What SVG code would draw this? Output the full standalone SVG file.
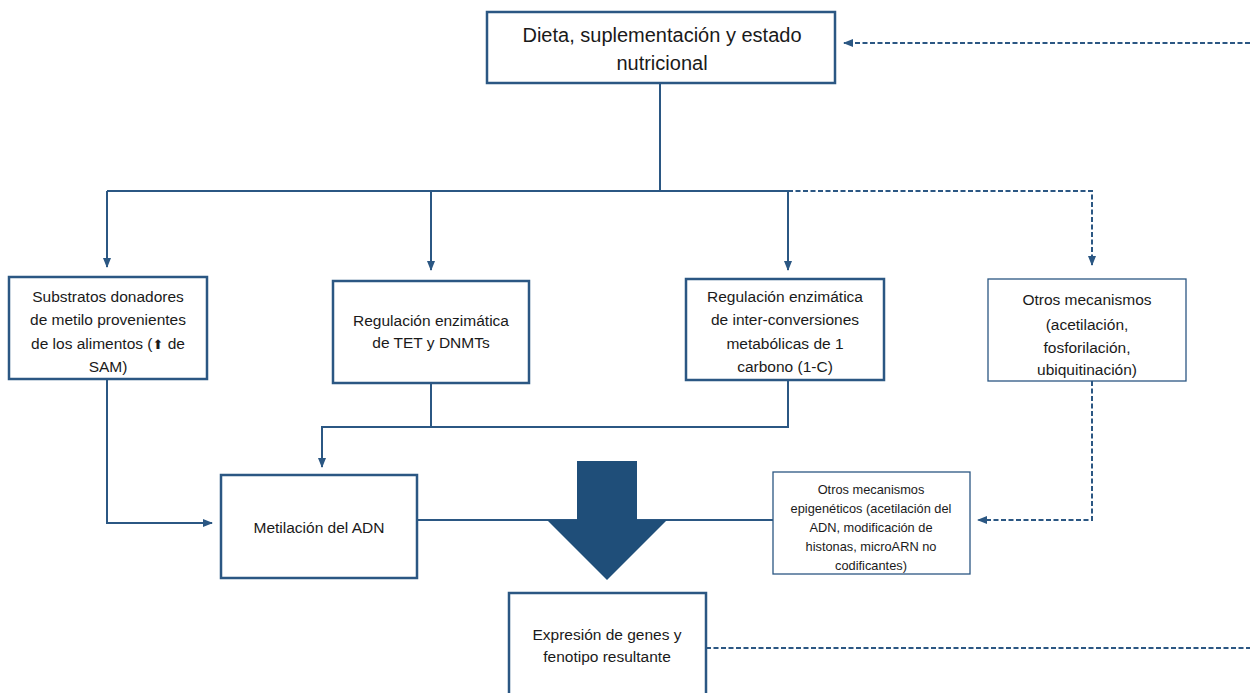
<svg xmlns="http://www.w3.org/2000/svg" width="1250" height="693" viewBox="0 0 1250 693">
<defs>
<marker id="ah" markerWidth="10" markerHeight="10" refX="9" refY="5" orient="auto" markerUnits="userSpaceOnUse">
<path d="M0,1 L10,5 L0,9 Z" fill="#2b5783"/>
</marker>
<style>
.box{fill:#fff;stroke:#2b5783;stroke-width:2.5}
.thin{fill:#fff;stroke:#2b5783;stroke-width:1.3}
.ln{fill:none;stroke:#2b5783;stroke-width:2}
.ds{fill:none;stroke:#2b5783;stroke-width:2;stroke-dasharray:5,2.5}
text{font-family:"Liberation Sans",Arial,sans-serif;fill:#1a1a1a;text-anchor:middle}
.t18{font-size:20px}
.t15{font-size:15.5px}
.t12{font-size:12.8px}
.up{font-family:"DejaVu Sans",sans-serif;font-size:13px}
</style>
</defs>
<rect width="1250" height="693" fill="#fff"/>
<g id="connectors">
<path class="ln" d="M660,83 V191"/>
<path class="ln" d="M107,191 H788"/>
<path class="ds" d="M788,191 H1092 V265" marker-end="url(#ah)"/>
<path class="ln" d="M107,191 V267" marker-end="url(#ah)"/>
<path class="ln" d="M431,191 V270" marker-end="url(#ah)"/>
<path class="ln" d="M788,191 V270" marker-end="url(#ah)"/>
<path class="ln" d="M107,379 V523 H212" marker-end="url(#ah)"/>
<path class="ln" d="M431,383 V427"/>
<path class="ln" d="M788,380 V427 H322 V467" marker-end="url(#ah)"/>
<path class="ln" d="M417,520 H773"/>
<path class="ds" d="M1092,381 V520 H978" marker-end="url(#ah)"/>
<path class="ds" d="M1250,43 H844" marker-end="url(#ah)"/>
<path class="ds" d="M706,648 H1250"/>
<path id="bigarrow" d="M577,461 H637 V520 H667 L607,580 L547,520 H577 Z" fill="#1f4e79"/>
</g>
<g id="n-dieta">
<rect class="box" x="487" y="12" width="348" height="71"/>
<text class="t18" x="662" y="42">Dieta, suplementación y estado</text>
<text class="t18" x="662" y="70">nutricional</text>
</g>
<g id="n-substratos">
<rect class="box" x="9" y="277" width="198" height="102"/>
<text class="t15" x="108" y="302">Substratos donadores</text>
<text class="t15" x="108" y="325">de metilo provenientes</text>
<text class="t15" x="108" y="349">de los alimentos (<tspan class="up">⬆</tspan> de</text>
<text class="t15" x="108" y="372">SAM)</text>
</g>
<g id="n-tet">
<rect class="box" x="333" y="281" width="196" height="102"/>
<text class="t15" x="431" y="326">Regulación enzimática</text>
<text class="t15" x="431" y="348">de TET y DNMTs</text>
</g>
<g id="n-1c">
<rect class="box" x="686" y="279" width="198" height="101"/>
<text class="t15" x="785" y="302">Regulación enzimática</text>
<text class="t15" x="785" y="325">de inter-conversiones</text>
<text class="t15" x="785" y="349">metabólicas de 1</text>
<text class="t15" x="785" y="372">carbono (1-C)</text>
</g>
<g id="n-otros">
<rect class="thin" x="988" y="279" width="198" height="102"/>
<text class="t15" x="1087" y="305">Otros mecanismos</text>
<text class="t15" x="1087" y="330">(acetilación,</text>
<text class="t15" x="1087" y="353">fosforilación,</text>
<text class="t15" x="1087" y="375">ubiquitinación)</text>
</g>
<g id="n-metilacion">
<rect class="box" x="221" y="475" width="196" height="103"/>
<text class="t15" x="319" y="533">Metilación del ADN</text>
</g>
<g id="n-epigeneticos">
<rect class="thin" x="773" y="472" width="197" height="102"/>
<text class="t12" x="871" y="494">Otros mecanismos</text>
<text class="t12" x="871" y="513">epigenéticos (acetilación del</text>
<text class="t12" x="871" y="532">ADN, modificación de</text>
<text class="t12" x="871" y="551">histonas, microARN no</text>
<text class="t12" x="871" y="570">codificantes)</text>
</g>
<g id="n-expresion">
<rect class="box" x="509" y="593" width="197" height="110"/>
<text class="t15" x="607" y="640">Expresión de genes y</text>
<text class="t15" x="607" y="662">fenotipo resultante</text>
</g>
</svg>
